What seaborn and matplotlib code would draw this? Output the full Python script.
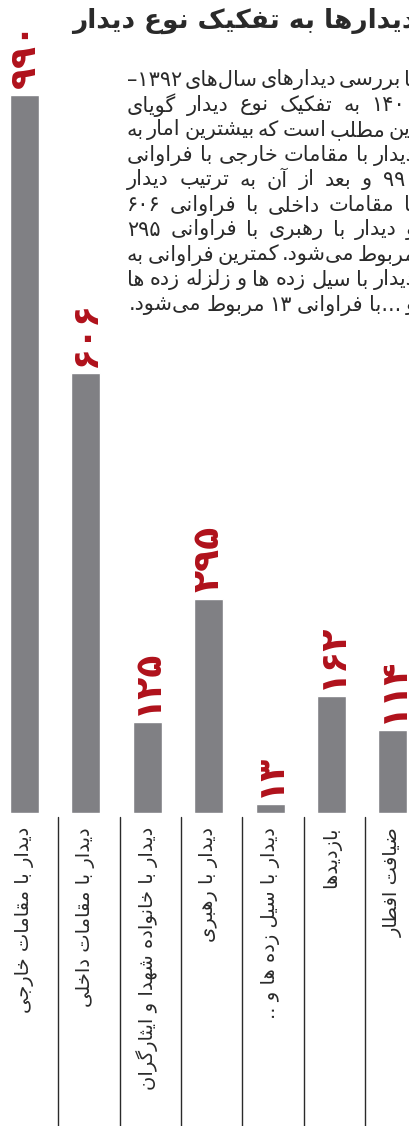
import re
import pandas as pd
import matplotlib
matplotlib.use("Agg")
import matplotlib.pyplot as plt
import seaborn as sns

# chart data
categories = ['دیدار با مقامات خارجی', 'دیدار با مقامات داخلی',
              'دیدار با خانواده شهدا و ایثارگران', 'دیدار با رهبری',
              'دیدار با سیل زده ها و ..', 'بازدیدها', 'ضیافت افطار']
counts = [990, 606, 125, 295, 13, 162, 114]
count_labels = ['۹۹۰', '۶۰۶', '۱۲۵', '۲۹۵', '۱۳', '۱۶۲', '۱۱۴']

title = 'دیدارها به تفکیک نوع دیدار'
note_lines = [
    'با بررسی دیدارهای سال‌های ۱۳۹۲–',
    '۱۴۰۰ به تفکیک نوع دیدار گویای',
    'این مطلب است که بیشترین امار به',
    'دیدار با مقامات خارجی با فراوانی',
    '۹۹۰ و بعد از آن به ترتیب دیدار',
    'با مقامات داخلی با فراوانی ۶۰۶',
    'و دیدار با رهبری با فراوانی ۲۹۵',
    'مربوط می‌شود. کمترین فراوانی به',
    'دیدار با سیل زده ها و زلزله زده ها',
    'و ...با فراوانی ۱۳ مربوط می‌شود.',
]

# matplotlib has no arabic shaping, so do it by hand:
# isolated, final, initial, medial presentation forms
FORMS = {
    'ا': '\uFE8D\uFE8E', 'آ': '\uFE81\uFE82', 'ب': '\uFE8F\uFE90\uFE91\uFE92',
    'پ': '\uFB56\uFB57\uFB58\uFB59', 'ت': '\uFE95\uFE96\uFE97\uFE98',
    'ث': '\uFE99\uFE9A\uFE9B\uFE9C', 'ج': '\uFE9D\uFE9E\uFE9F\uFEA0',
    'چ': '\uFB7A\uFB7B\uFB7C\uFB7D', 'ح': '\uFEA1\uFEA2\uFEA3\uFEA4',
    'خ': '\uFEA5\uFEA6\uFEA7\uFEA8', 'د': '\uFEA9\uFEAA', 'ذ': '\uFEAB\uFEAC',
    'ر': '\uFEAD\uFEAE', 'ز': '\uFEAF\uFEB0', 'ژ': '\uFB8A\uFB8B',
    'س': '\uFEB1\uFEB2\uFEB3\uFEB4', 'ش': '\uFEB5\uFEB6\uFEB7\uFEB8',
    'ص': '\uFEB9\uFEBA\uFEBB\uFEBC', 'ض': '\uFEBD\uFEBE\uFEBF\uFEC0',
    'ط': '\uFEC1\uFEC2\uFEC3\uFEC4', 'ظ': '\uFEC5\uFEC6\uFEC7\uFEC8',
    'ع': '\uFEC9\uFECA\uFECB\uFECC', 'غ': '\uFECD\uFECE\uFECF\uFED0',
    'ف': '\uFED1\uFED2\uFED3\uFED4', 'ق': '\uFED5\uFED6\uFED7\uFED8',
    'ک': '\uFB8E\uFB8F\uFB90\uFB91', 'گ': '\uFB92\uFB93\uFB94\uFB95',
    'ل': '\uFEDD\uFEDE\uFEDF\uFEE0', 'م': '\uFEE1\uFEE2\uFEE3\uFEE4',
    'ن': '\uFEE5\uFEE6\uFEE7\uFEE8', 'و': '\uFEED\uFEEE',
    'ه': '\uFEE9\uFEEA\uFEEB\uFEEC', 'ی': '\uFBFC\uFBFD\uFBFE\uFBFF',
}
DIGITS = '0123456789۰۱۲۳۴۵۶۷۸۹'


def rtl(text):
    text = text.replace('ي', 'ی').replace('ك', 'ک')
    out = []
    for k, c in enumerate(text):
        if c not in FORMS:
            out.append(c)
            continue
        prev = text[k - 1] if k > 0 else ''
        nxt = text[k + 1] if k + 1 < len(text) else ''
        link_prev = prev in FORMS and len(FORMS[prev]) == 4
        link_next = nxt in FORMS and len(FORMS[c]) == 4
        f = FORMS[c]
        if link_prev and link_next:
            out.append(f[3])
        elif link_prev:
            out.append(f[1])
        elif link_next:
            out.append(f[2])
        else:
            out.append(f[0])
    s = ''.join(out).replace('\u200c', '')
    parts = re.findall(r'[0-9۰-۹]+|[^0-9۰-۹]+', s)
    return ''.join(p if p[0] in DIGITS else p[::-1] for p in reversed(parts))


bar_color = '#808084'
red = '#b0111b'
ink = '#2a2a2a'

sns.set_style('white')
plt.rcParams['font.family'] = ['DejaVu Sans']

W, H = 409, 1126
fig = plt.figure(figsize=(W / 100, H / 100), dpi=100)
base = 813
ax = fig.add_axes([0, 1 - base / H, 1, base / H])

df = pd.DataFrame({'category': categories, 'count': counts})
sns.barplot(data=df, x='category', y='count', color=bar_color, width=0.47,
            saturation=1, ax=ax)

ax.set_xlim(-24.5 / 61.4, (W - 24.5) / 61.4)
ax.set_ylim(0, base / 0.7253)
ax.bar_label(ax.containers[0], labels=count_labels, rotation=90, padding=5,
             color=red, fontsize=26, fontweight='bold')

ax.set_xticks(range(len(categories)))
ax.set_xticklabels([rtl(c) for c in categories], rotation=90, fontsize=14,
                   color=ink)
ax.tick_params(axis='x', length=0, pad=10)
ax.set_yticks([])
ax.set_xlabel('')
ax.set_ylabel('')
sns.despine(ax=ax, left=True, bottom=True)

# column separators under the bars
for i in range(len(categories) - 1):
    ax.plot([i + 0.55, i + 0.55], [-0.005, -0.4], color=ink, lw=1,
            transform=ax.get_xaxis_transform(), clip_on=False)

fig.text(72 / W, 1 - 21 / H, rtl(title), ha='left', va='center',
         fontsize=19, fontweight='bold', color=ink)

# justified paragraph, right edge runs off the figure like the original
renderer = fig.canvas.get_renderer()
x_right, x_left = 416, 127
for k, line in enumerate(note_lines):
    y = 1 - (80 + 25 * k) / H
    words = line.split(' ')
    texts = [fig.text(0, y, rtl(w), ha='right', va='center', fontsize=15,
                      color=ink) for w in words]
    widths = [t.get_window_extent(renderer).width for t in texts]
    if k < len(note_lines) - 1 and len(words) > 1:
        gap = (x_right - x_left - sum(widths)) / (len(words) - 1)
    else:
        gap = 5
    x = x_right
    for t, wd in zip(texts, widths):
        t.set_x(x / W)
        x -= wd + gap

fig.savefig('out.png', dpi=100)
